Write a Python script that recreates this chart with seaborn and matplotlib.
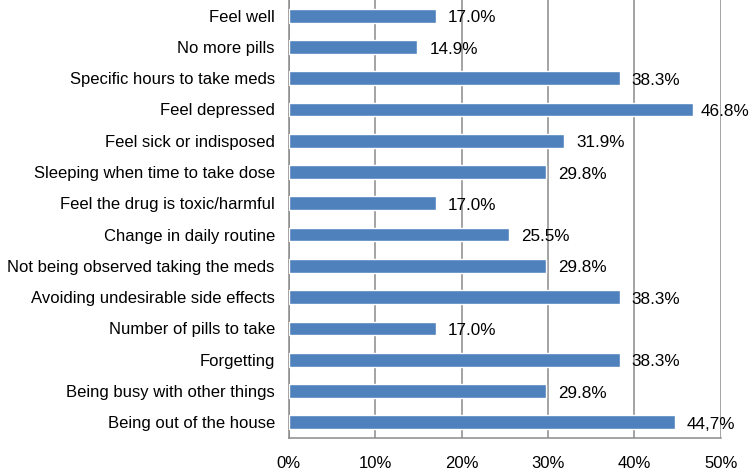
import matplotlib
matplotlib.use("Agg")
import matplotlib.pyplot as plt
import pandas as pd
import seaborn as sns
from matplotlib.ticker import FuncFormatter, MultipleLocator

# ── Data ───────────────────────────────────────────────────────────────────
reasons = [
    "Feel well",
    "No more pills",
    "Specific hours to take meds",
    "Feel depressed",
    "Feel sick or indisposed",
    "Sleeping when time to take dose",
    "Feel the drug is toxic/harmful",
    "Change in daily routine",
    "Not being observed taking the meds",
    "Avoiding undesirable side effects",
    "Number of pills to take",
    "Forgetting",
    "Being busy with other things",
    "Being out of the house",
]
percent = [17.0, 14.9, 38.3, 46.8, 31.9, 29.8, 17.0, 25.5, 29.8, 38.3, 17.0, 38.3, 29.8, 44.7]
value_labels = ["17.0%", "14.9%", "38.3%", "46.8%", "31.9%", "29.8%", "17.0%",
                "25.5%", "29.8%", "38.3%", "17.0%", "38.3%", "29.8%", "44,7%"]

df = pd.DataFrame({"reason": reasons, "percent": percent})

# ── Style ──────────────────────────────────────────────────────────────────
sns.set_style("white")
plt.rcParams["font.family"] = ["Liberation Sans", "DejaVu Sans"]
plt.rcParams["text.color"] = "black"
plt.rcParams["xtick.labelcolor"] = "black"
plt.rcParams["ytick.labelcolor"] = "black"
BAR_COLOR = "#4F81BD"
GRID_COLOR = "#8A8A8A"

fig = plt.figure(figsize=(7.5, 4.75), dpi=100)
ax = fig.add_axes([0.385, 0.078, 0.576, 0.922])

sns.barplot(data=df, x="percent", y="reason", color=BAR_COLOR, width=0.44,
            saturation=1, ax=ax, zorder=3)

labels = []
for patch, txt in zip(ax.patches, value_labels):
    t = ax.annotate(txt, (patch.get_width(), patch.get_y() + patch.get_height() / 2),
                    xytext=(8.5, -1.5), textcoords="offset points", va="center",
                    ha="left", fontsize=12.3, color="black", zorder=4)
    labels.append(t)

ax.set_xlim(0, 50)
ax.set_ylim(len(reasons) - 0.5, -0.5)
ax.xaxis.set_major_locator(MultipleLocator(10))
ax.xaxis.set_major_formatter(FuncFormatter(lambda v, _: f"{v:.0f}%"))
ax.grid(axis="x", color=GRID_COLOR, lw=1.1, zorder=0)
ax.set_xlabel("")
ax.set_ylabel("")

# category boundaries as y ticks, labels at centres
ax.set_yticks([i + 0.5 for i in range(-1, len(reasons))], minor=False)
ax.set_yticklabels([])
ax.set_yticks(range(len(reasons)), minor=True)
ax.set_yticklabels(reasons, minor=True)
ax.tick_params(axis="y", which="minor", length=0, pad=10, labelsize=12, labelcolor="black")
ax.tick_params(axis="y", which="major", length=5, color=GRID_COLOR, direction="out")
ax.tick_params(axis="x", length=5, color=GRID_COLOR, direction="out", labelsize=12,
               pad=8, labelcolor="black")

for side in ["top", "right"]:
    ax.spines[side].set_visible(False)
for side in ["left", "bottom"]:
    ax.spines[side].set_color(GRID_COLOR)
    ax.spines[side].set_linewidth(1.1)

# keep value labels inside the figure, as the original does
fig.canvas.draw()
fig_w = fig.bbox.width
for t in labels:
    bb = t.get_window_extent()
    overflow = bb.x1 - (fig_w - 1)
    if overflow > 0:
        x, y = t.get_position()
        t.set_position((x - overflow * 72 / fig.dpi, y))

fig.savefig("out.png", dpi=100)
